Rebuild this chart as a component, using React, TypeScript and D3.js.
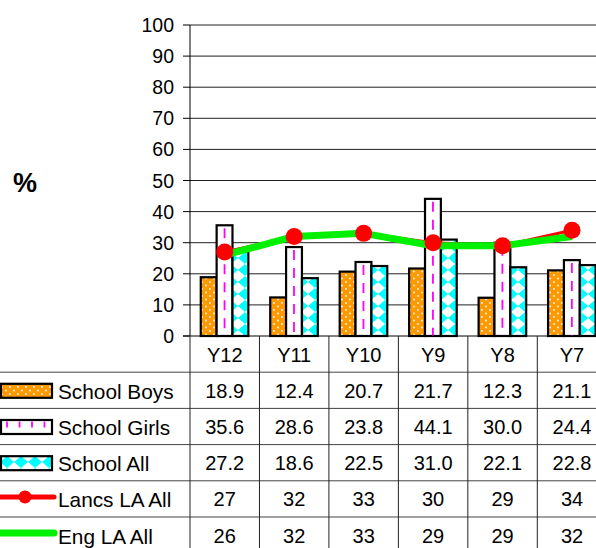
import React from "react";
import * as d3 from "d3";

const categories = ["Y12", "Y11", "Y10", "Y9", "Y8", "Y7"];
const schoolBoys = [18.9, 12.4, 20.7, 21.7, 12.3, 21.1];
const schoolGirls = [35.6, 28.6, 23.8, 44.1, 30.0, 24.4];
const schoolAll = [27.2, 18.6, 22.5, 31.0, 22.1, 22.8];
const lancsLA = [27, 32, 33, 30, 29, 34];
const engLA = [26, 32, 33, 29, 29, 32];
const yTicks = [0, 10, 20, 30, 40, 50, 60, 70, 80, 90, 100];

const W = 596;
const H = 548;
const FONT = "Arial, 'Liberation Sans', sans-serif";
const GREEN = "#00F000";

export default function App() {
  const plotLeft = 190;
  const bandW = 69.46;
  const plotRight = plotLeft + bandW * categories.length;
  const yTop = 25;
  const yBottom = 336;

  const x = d3.scaleBand<string>().domain(categories).range([plotLeft, plotRight]).padding(0);
  const y = d3.scaleLinear().domain([0, 100]).range([yBottom, yTop]);
  const seriesKeys = ["boys", "girls", "all"];
  const xs = d3.scaleBand<string>().domain(seriesKeys).range([bandW * 0.155, bandW * 0.84]).padding(0);

  const barSeries = [
    { key: "boys", name: "School Boys", values: schoolBoys },
    { key: "girls", name: "School Girls", values: schoolGirls },
    { key: "all", name: "School All", values: schoolAll },
  ];
  const lineSeries = [
    { key: "lancs", name: "Lancs LA All", values: lancsLA },
    { key: "eng", name: "Eng LA All", values: engLA },
  ];

  const line = d3
    .line<number>()
    .x((_, i) => (x(categories[i]) as number) + bandW / 2)
    .y((d) => y(d));

  const rowH = 36.2;
  const headerTop = yBottom;
  const rowTops = d3.range(6).map((i) => headerTop + i * rowH);
  const fill = (k: string) =>
    k === "boys" ? "url(#patBoys)" : k === "girls" ? "#ffffff" : "url(#patAll)";

  const fmt1 = d3.format(".1f");
  const gridColor = "#222";
  const tableLine = "#444";

  return (
    <svg
      width={W}
      height={H}
      style={{ position: "absolute", left: 0, top: 0, background: "#fff" }}
      fontFamily={FONT}
    >
      <defs>
        <pattern id="patBoys" patternUnits="userSpaceOnUse" width="8" height="7">
          <rect width="8" height="7" fill="#FF9900" />
          <circle cx="2" cy="2" r="0.9" fill="#fff" />
          <circle cx="6" cy="5.5" r="0.9" fill="#fff" />
        </pattern>
        <pattern id="patAll" patternUnits="userSpaceOnUse" width="14" height="12">
          <rect width="14" height="12" fill="#fff" />
          <polygon points="7,0 14,6 7,12 0,6" fill="#00FFFF" />
        </pattern>
      </defs>

      {/* gridlines */}
      {yTicks.map((t) => (
        <g key={t}>
          {t > 0 && (
            <line x1={plotLeft} x2={plotRight} y1={y(t)} y2={y(t)} stroke={gridColor} strokeWidth={1} />
          )}
          <line x1={plotLeft - 7} x2={plotLeft} y1={y(t)} y2={y(t)} stroke="#000" strokeWidth={1} />
          <text x={174} y={y(t) + 7} textAnchor="end" fontSize={19.5} fill="#000">
            {t}
          </text>
        </g>
      ))}
      <line x1={plotLeft} x2={plotLeft} y1={yTop} y2={yBottom} stroke="#000" strokeWidth={1} />

      <text x={25} y={192} textAnchor="middle" fontSize={27} fontWeight="bold" fill="#000">
        %
      </text>

      {/* bars */}
      {barSeries.map((s) => (
        <g key={s.key}>
          {s.values.map((v, i) => {
            const bx = (x(categories[i]) as number) + (xs(s.key) as number);
            const bw = xs.bandwidth();
            const by = y(v);
            const bh = yBottom - by;
            return (
              <g key={i}>
                <rect x={bx} y={by} width={bw} height={bh} fill={fill(s.key)} stroke="#000" strokeWidth={2.2} />
                {s.key === "girls" && (
                  <line
                    x1={bx + bw / 2}
                    x2={bx + bw / 2}
                    y1={by + 3}
                    y2={yBottom}
                    stroke="#FF00FF"
                    strokeWidth={1.8}
                    strokeDasharray="10 8"
                  />
                )}
              </g>
            );
          })}
        </g>
      ))}

      {/* lines */}
      <path d={line(lancsLA) || ""} fill="none" stroke="#FF0000" strokeWidth={3} />
      <path d={line(engLA) || ""} fill="none" stroke={GREEN} strokeWidth={7} strokeLinejoin="round" />
      {lancsLA.map((v, i) => (
        <circle key={i} cx={(x(categories[i]) as number) + bandW / 2} cy={y(v)} r={8.5} fill="#FF0000" />
      ))}

      {/* table */}
      <line x1={plotLeft - 7} x2={W} y1={headerTop} y2={headerTop} stroke="#000" strokeWidth={1} />
      {rowTops.slice(1).map((rt, i) => (
        <line key={i} x1={0} x2={W} y1={rt} y2={rt} stroke={tableLine} strokeWidth={1} />
      ))}
      {d3.range(categories.length + 1).map((i) => (
        <line
          key={i}
          x1={plotLeft + i * bandW}
          x2={plotLeft + i * bandW}
          y1={headerTop}
          y2={H}
          stroke="#222"
          strokeWidth={1}
        />
      ))}
      {categories.map((c) => (
        <text
          key={c}
          x={(x(c) as number) + bandW / 2}
          y={rowTops[0] + rowH / 2 + 7.5}
          textAnchor="middle"
          fontSize={20}
          fill="#000"
        >
          {c}
        </text>
      ))}
      {barSeries.map((s, r) => {
        const cy = rowTops[r + 1] + rowH / 2;
        return (
          <g key={s.key}>
            {s.values.map((v, i) => (
              <text
                key={i}
                x={(x(categories[i]) as number) + bandW / 2}
                y={cy + 7.5}
                textAnchor="middle"
                fontSize={20}
                fill="#000"
              >
                {fmt1(v)}
              </text>
            ))}
            <rect x={1} y={cy - 6.5} width={51} height={14} fill={fill(s.key)} stroke="#000" strokeWidth={2.2} />
            {s.key === "girls" &&
              d3.range(4).map((k) => (
                <line
                  key={k}
                  x1={7 + k * 12.5}
                  x2={7 + k * 12.5}
                  y1={cy - 5}
                  y2={cy + 1}
                  stroke="#FF00FF"
                  strokeWidth={1.8}
                />
              ))}
            <text x={58} y={cy + 8.5} fontSize={20.8} fill="#000">
              {s.name}
            </text>
          </g>
        );
      })}
      {lineSeries.map((s, r) => {
        const cy = rowTops[r + 4] + rowH / 2;
        return (
          <g key={s.key}>
            {s.values.map((v, i) => (
              <text
                key={i}
                x={(x(categories[i]) as number) + bandW / 2}
                y={cy + 7.5}
                textAnchor="middle"
                fontSize={20}
                fill="#000"
              >
                {v}
              </text>
            ))}
            {s.key === "lancs" ? (
              <g>
                <line x1={0} x2={54} y1={cy - 2} y2={cy - 2} stroke="#FF0000" strokeWidth={5} strokeLinecap="round" />
                <circle cx={25} cy={cy - 2} r={6.5} fill="#FF0000" />
              </g>
            ) : (
              <line x1={0} x2={54} y1={cy - 2} y2={cy - 2} stroke={GREEN} strokeWidth={7} strokeLinecap="round" />
            )}
            <text x={58} y={cy + 8.5} fontSize={20.8} fill="#000">
              {s.name}
            </text>
          </g>
        );
      })}
    </svg>
  );
}
